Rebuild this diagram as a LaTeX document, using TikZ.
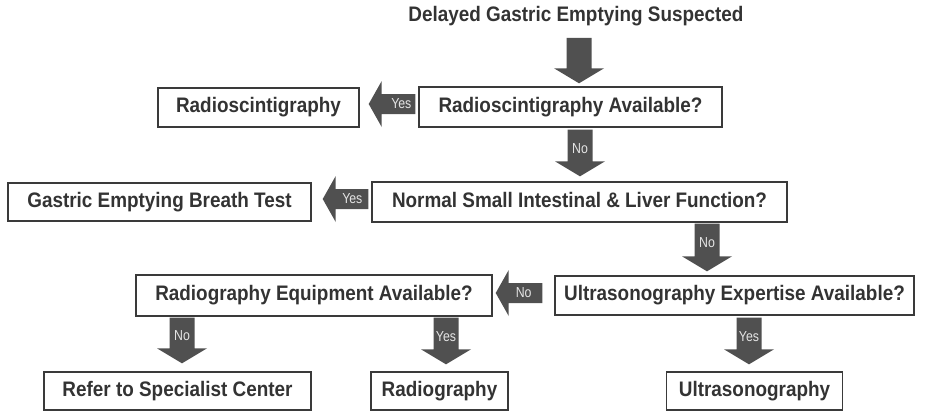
\documentclass[tikz,border=0pt]{standalone}
\usepackage{fontspec}
\setmainfont{Liberation Sans}
\newfontfamily\condfont[FakeStretch=0.9]{Liberation Sans}
\newfontfamily\lblfont[FakeStretch=0.85]{Liberation Sans}
\usetikzlibrary{calc}
\definecolor{arrowgray}{HTML}{505050}
\definecolor{linegray}{HTML}{3A3A3A}
\definecolor{txtgray}{HTML}{333333}
\definecolor{lblgray}{HTML}{E4E4E4}
\tikzset{
  boxfont/.style={font=\condfont\fontsize{21}{24}\selectfont\bfseries},
  box/.style={boxfont, draw=linegray, line width=1.4pt, fill=white, text=txtgray,
    inner sep=0pt, text height=15pt, text depth=4.3pt},
  titletext/.style={boxfont, text=txtgray, inner sep=0pt, text height=15pt, text depth=4.3pt},
  lbl/.style={font=\lblfont\fontsize{14.5}{16}\selectfont, text=lblgray, inner sep=0pt},
  blockfill/.style={fill=arrowgray},
  downarrow/.style={to path={let \p1=(\tikztostart), \p2=(\tikztotarget) in
    (\x1-12.5pt,\y1) -- (\x1+12.5pt,\y1) -- (\x1+12.5pt,\y2+15pt) -- (\x1+25pt,\y2+15pt)
    -- (\x1,\y2) -- (\x1-25pt,\y2+15pt) -- (\x1-12.5pt,\y2+15pt) -- cycle
    (\x1,\y1) -- (\x1,\y2) \tikztonodes}},
  leftarrow/.style={to path={let \p1=(\tikztostart), \p2=(\tikztotarget) in
    (\x1,\y1+10pt) -- (\x2+13pt,\y1+10pt) -- (\x2+13pt,\y1+23pt) -- (\x2,\y1)
    -- (\x2+13pt,\y1-23pt) -- (\x2+13pt,\y1-10pt) -- (\x1,\y1-10pt) -- cycle
    (\x1,\y1) -- (\x2,\y1) \tikztonodes}},
}
\begin{document}
\begin{tikzpicture}[x=1pt,y=-1pt]
\useasboundingbox (0,0) rectangle (926,413);
% title and boxes
\node[titletext] (title) at (576,16) {Delayed Gastric Emptying Suspected};
\node[box, minimum width=303pt, minimum height=40pt] (b1) at (570.5,107) {Radioscintigraphy Available?};
\node[box, minimum width=201pt, minimum height=39pt] (r1) at (258.5,107.5) {Radioscintigraphy};
\node[box, minimum width=415pt, minimum height=40pt] (b2) at (579.5,202) {Normal Small Intestinal \& Liver Function?};
\node[box, minimum width=303pt, minimum height=38pt] (r2) at (159.5,202) {Gastric Emptying Breath Test};
\node[box, minimum width=359pt, minimum height=39pt] (b3) at (734.5,295.5) {Ultrasonography Expertise Available?};
\node[box, minimum width=356pt, minimum height=41pt] (b4) at (314,295.5) {Radiography Equipment Available?};
\node[box, minimum width=267pt, minimum height=38pt] (e1) at (177.5,391) {Refer to Specialist Center};
\node[box, minimum width=137pt, minimum height=38pt] (e2) at (439.5,391) {Radiography};
\node[box, minimum width=176pt, minimum height=38pt] (e3) at (754.5,391) {Ultrasonography};
% block arrows
\fill[blockfill] ([xshift=3pt,yshift=-12pt]title.south) to[downarrow] ([yshift=3pt]b1.north);
\fill[blockfill] ([xshift=-3pt,yshift=3pt]b1.west) to[leftarrow] node[lbl,pos=0.3]{Yes} ([xshift=9pt]r1.east);
\fill[blockfill] ([xshift=9.5pt,yshift=-2pt]b1.south) to[downarrow] node[lbl,pos=0.4]{No} ([yshift=5pt]b2.north);
\fill[blockfill] ([xshift=-3pt,yshift=3pt]b2.west) to[leftarrow] node[lbl,pos=0.35]{Yes} ([xshift=11pt]r2.east);
\fill[blockfill] ([xshift=127.5pt,yshift=-1pt]b2.south) to[downarrow] node[lbl,pos=0.4]{No} ([yshift=4pt]b3.north);
\fill[blockfill] ([xshift=-12pt,yshift=2.5pt]b3.west) to[leftarrow] node[lbl,pos=0.4]{No} ([xshift=3pt]b4.east);
\fill[blockfill] ([xshift=-132pt,yshift=-1pt]b4.south) to[downarrow] node[lbl,pos=0.4]{No} ([yshift=8pt]e1.north);
\fill[blockfill] ([xshift=132pt,yshift=-1pt]b4.south) to[downarrow] node[lbl,pos=0.4]{Yes} ([yshift=7pt]e2.north);
\fill[blockfill] ([xshift=14.5pt,yshift=-2pt]b3.south) to[downarrow] node[lbl,pos=0.4]{Yes} ([yshift=7pt]e3.north);
\end{tikzpicture}
\end{document}
